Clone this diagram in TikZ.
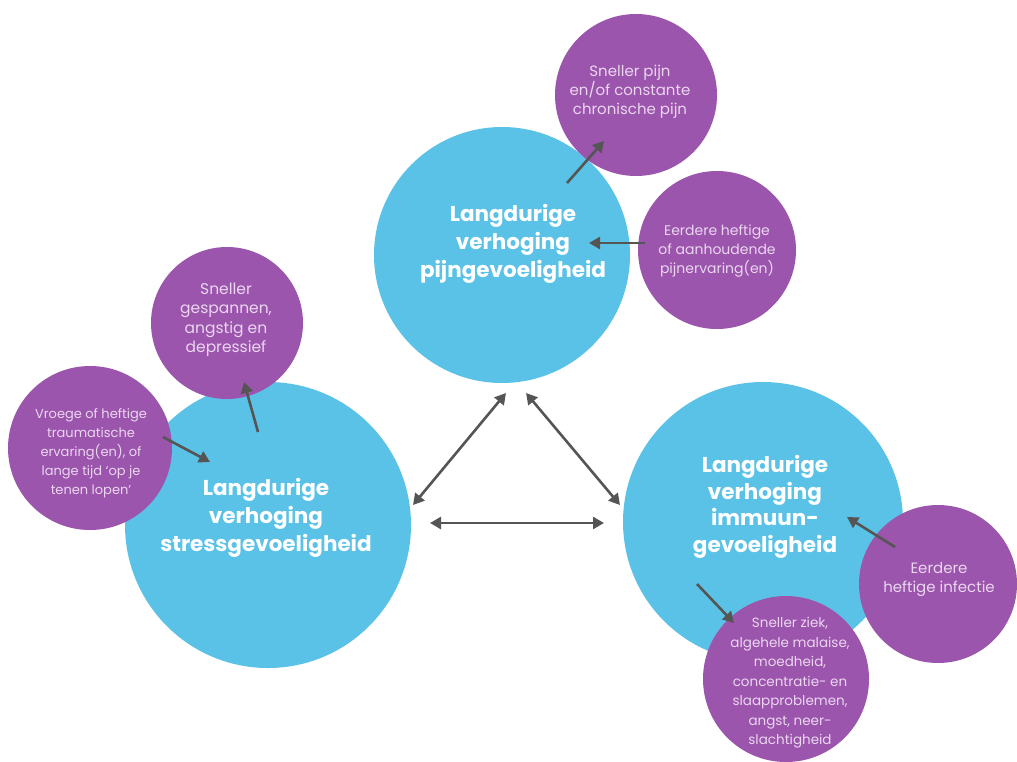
\documentclass[tikz,border=0pt]{standalone}
\usepackage{fontspec}
\setmainfont{Poppins}
\usetikzlibrary{arrows.meta}
\definecolor{cblue}{HTML}{5BC2E7}
\definecolor{cpurple}{HTML}{9B55AC}
\definecolor{ctext}{HTML}{EBD6F0}
\definecolor{carrow}{HTML}{555555}
\begin{document}
\begin{tikzpicture}[x=1pt,y=-1pt,
  bigc/.style={circle, fill=cblue, minimum size=#1, inner sep=0pt},
  smallc/.style={circle, fill=cpurple, minimum size=#1, inner sep=0pt},
  bigt/.style={text=white, font=\bfseries\fontsize{21.5}{28}\selectfont, align=center, inner sep=0pt},
  smallt/.style={text=ctext, font=\fontsize{14}{19}\selectfont, align=center, inner sep=0pt},
  tip/.style={-{Triangle[length=11pt,width=12pt]}},
  arr/.style={draw=carrow, line width=2.6pt, tip},
  dbl/.style={draw=carrow, line width=2.6pt, {Triangle[length=11pt,width=12pt]}-{Triangle[length=11pt,width=12pt]}}]
\useasboundingbox (0,0) rectangle (1017,761);
\fill[white] (0,0) rectangle (1017,761);
% big circles
\node[bigc=256pt] (pijn) at (502,255) {};
\node[bigc=286pt] (stress) at (268,525) {};
\node[bigc=280pt] (immuun) at (763,522) {};
% small circles
\node[smallc=162pt] (p1) at (636,95) {};
\node[smallc=158pt] (p2) at (717,250) {};
\node[smallc=152pt] (s1) at (227,323) {};
\node[smallc=164pt] (s2) at (90,448) {};
\node[smallc=166pt] (i1) at (786,679) {};
\node[smallc=158pt] (i2) at (938,584) {};
% texts
\node[bigt] (tpijn) at (513,244) {Langdurige\\verhoging\\pijngevoeligheid};
\node[bigt] (tstress) at (266,518) {Langdurige\\verhoging\\stressgevoeligheid};
\node[bigt, font=\bfseries\fontsize{21.5}{26.5}\selectfont] (timmuun) at (765,507) {Langdurige\\verhoging\\immuun-\\gevoeligheid};
\node[smallt, font=\fontsize{15}{19}\selectfont] (tp1) at (630,92) {Sneller pijn\\en/of constante\\chronische pijn};
\node[smallt] (tp2) at (717,251) {Eerdere heftige\\of aanhoudende\\pijnervaring(en)};
\node[smallt, font=\fontsize{15.5}{19.5}\selectfont] (ts1) at (226,320) {Sneller\\gespannen,\\angstig en\\depressief};
\node[smallt, font=\fontsize{13}{19}\selectfont] (ts2) at (91,453) {Vroege of heftige\\traumatische\\ervaring(en), of\\lange tijd ‘op je\\tenen lopen’};
\node[smallt, font=\fontsize{13.5}{19.5}\selectfont] (ti1) at (790,683) {Sneller ziek,\\algehele malaise,\\moedheid,\\concentratie- en\\slaapproblemen,\\angst, neer-\\slachtigheid};
\node[smallt, font=\fontsize{15}{19}\selectfont] (ti2) at (939,579) {Eerdere\\heftige infectie};
% arrow end points
\coordinate (a1s) at (567,183); \coordinate (a1e) at (604,141);
\coordinate (a2s) at (645,243); \coordinate (a2e) at (589,243);
\coordinate (a3s) at (258,432); \coordinate (a3e) at (244,382);
\coordinate (a4s) at (163,437); \coordinate (a4e) at (210,462);
\coordinate (a5s) at (895,547); \coordinate (a5e) at (847,517);
\coordinate (a6s) at (697,584); \coordinate (a6e) at (734,623);
\draw[arr] (a1s) -- (a1e);
\draw[arr] (a2s) -- (a2e);
\draw[arr] (a3s) -- (a3e);
\draw[arr] (a4s) -- (a4e);
\draw[arr] (a5s) -- (a5e);
\draw[arr] (a6s) -- (a6e);
% triangle arrows
\coordinate (l1) at (413,505); \coordinate (l2) at (506,393);
\coordinate (r1) at (526,393); \coordinate (r2) at (620,505);
\coordinate (h1) at (430,523); \coordinate (h2) at (604,523);
\draw[dbl] (l1) -- (l2);
\draw[dbl] (r1) -- (r2);
\draw[dbl] (h1) -- (h2);
\end{tikzpicture}
\end{document}
